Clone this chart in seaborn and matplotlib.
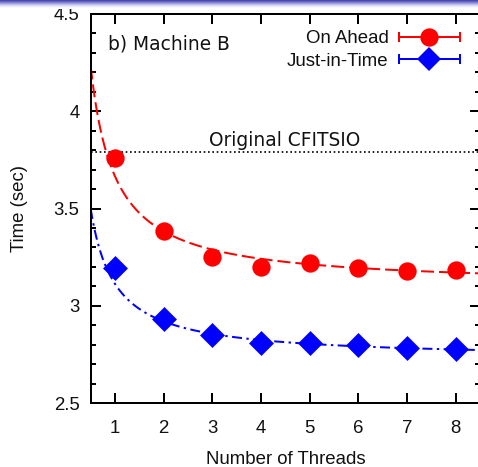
import numpy as np
import pandas as pd
import matplotlib
matplotlib.use("Agg")
import matplotlib.pyplot as plt
import seaborn as sns
from matplotlib.ticker import MultipleLocator
from matplotlib.lines import Line2D
from matplotlib.collections import LineCollection
from matplotlib.container import ErrorbarContainer
from matplotlib.legend_handler import HandlerErrorbar

# ---- data -------------------------------------------------------------
threads = [1, 2, 3, 4, 5, 6, 7, 8]
on_ahead = [3.76, 3.385, 3.25, 3.20, 3.22, 3.195, 3.18, 3.185]
just_in_time = [3.195, 2.93, 2.85, 2.81, 2.81, 2.80, 2.785, 2.78]
original_cfitsio = 3.79

# fitted model t(n) = a + b / n for each method
on_ahead_fit = (3.10, 0.565)
just_in_time_fit = (2.727, 0.385)

series_names = ["On Ahead", "Just-in-Time"]
x_ticks = [1, 2, 3, 4, 5, 6, 7, 8]
y_ticks = [2.5, 3.0, 3.5, 4.0, 4.5]
y_tick_labels = ["2.5", "3", "3.5", "4", "4.5"]

# ---- style ------------------------------------------------------------
sns.set_theme(style="ticks")
plt.rcParams["font.family"] = ["Liberation Sans", "DejaVu Sans"]
FS = 13.4
LW = 1.44

W, H = 478, 467
fig = plt.figure(figsize=(W / 100, H / 100), dpi=100)
fig.patch.set_facecolor("white")

# plot frame in pixel geometry
left_px, right_px, top_px, bottom_px = 90.7, 480.0, 14.0, 403.0
ax = fig.add_axes([left_px / W, 1 - bottom_px / H,
                   (right_px - left_px) / W, (bottom_px - top_px) / H])

df = pd.DataFrame({
    "threads": threads * 2,
    "time": on_ahead + just_in_time,
    "method": [series_names[0]] * len(threads) + [series_names[1]] * len(threads),
})

# fitted curves
xs = np.linspace(0.5, 8.5, 400)
ax.plot(xs, on_ahead_fit[0] + on_ahead_fit[1] / xs, color="#ff0000",
        lw=LW, linestyle=(0, (6.5, 2.5)), zorder=2)
ax.plot(xs, just_in_time_fit[0] + just_in_time_fit[1] / xs, color="#0000ff",
        lw=LW, linestyle=(0, (5, 2.2, 1.2, 2.2)), zorder=2)

# baseline reference
ax.axhline(original_cfitsio, color="black", lw=1.2, linestyle=(0, (1, 1.6)), zorder=1)
ax.text(2.93, original_cfitsio + 0.03, "Original CFITSIO", fontsize=FS,
        family="DejaVu Sans", ha="left", va="baseline", color="#111111")

# measured points
sns.scatterplot(data=df[df["method"] == series_names[0]], x="threads", y="time",
                color="#ff0000", marker="o", s=174, linewidth=0, ax=ax,
                legend=False, zorder=3)
sns.scatterplot(data=df[df["method"] == series_names[1]], x="threads", y="time",
                color="#0000ff", marker="D", s=161, linewidth=0, ax=ax,
                legend=False, zorder=3)

# axes
ax.set_xlim(0.5, 8.5)
ax.set_ylim(2.5, 4.5)
ax.set_xticks(x_ticks)
ax.set_yticks(y_ticks)
ax.set_yticklabels(y_tick_labels)
ax.yaxis.set_minor_locator(MultipleLocator(0.1))
ax.tick_params(axis="both", which="both", direction="in", top=True, right=True,
               width=LW, color="black", labelsize=FS, labelcolor="#111111")
ax.tick_params(axis="both", which="major", length=7.2)
ax.tick_params(axis="both", which="minor", length=3.6)
ax.tick_params(axis="x", which="major", pad=12)
ax.tick_params(axis="y", which="both", pad=8)
for sp in ax.spines.values():
    sp.set_linewidth(LW)
    sp.set_color("black")
ax.set_xlabel("Number of Threads", fontsize=FS, labelpad=10, color="#111111")
ax.set_ylabel("Time (sec)", fontsize=FS, color="#111111")
ax.yaxis.set_label_coords(-0.16, 0.5)

ax.text(0.0444, 0.9075, "b) Machine B", transform=ax.transAxes, fontsize=FS,
        family="DejaVu Sans", ha="left", va="baseline", color="#111111")


# legend keys: marker on a horizontal bar with end caps
def key(color, marker, ms):
    pt = Line2D([], [], color=color, marker=marker, markersize=ms,
                linestyle="none", markeredgewidth=0)
    cap = Line2D([], [], color=color, marker="|", markersize=7.2,
                 markeredgewidth=LW, linestyle="none")
    bar = LineCollection([], colors=color, linewidths=LW)
    return ErrorbarContainer((pt, (cap, cap), (bar,)), has_xerr=True, has_yerr=False)


handles = [key("#ff0000", "o", 13.2), key("#0000ff", "D", 12.7)]
leg = ax.legend(handles, series_names, loc="upper right",
                bbox_to_anchor=(460 / W, 1 - 30 / H), bbox_transform=fig.transFigure,
                frameon=False, markerfirst=False, fontsize=FS,
                handlelength=3.28, handletextpad=0.55, labelspacing=0.32,
                borderpad=0, borderaxespad=0,
                handler_map={ErrorbarContainer: HandlerErrorbar(xerr_size=1.64)})
for t in leg.get_texts():
    t.set_color("#111111")

# header band
band = fig.add_axes([0, 1 - 9 / H, 1, 9 / H])
band_colors = np.array([[72, 72, 176], [98, 98, 190], [128, 128, 206],
                        [160, 160, 222], [190, 190, 234], [215, 215, 243],
                        [235, 235, 250], [248, 248, 254], [255, 255, 255]]) / 255.0
band.imshow(band_colors[:, None, :], aspect="auto", interpolation="nearest")
band.set_axis_off()

fig.savefig("out.png", dpi=100)
